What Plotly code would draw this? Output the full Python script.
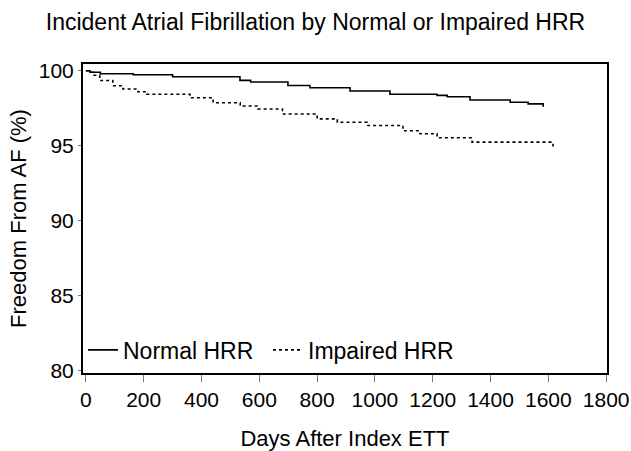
import plotly.graph_objects as go

# Kaplan-Meier style survival (freedom from AF)
normal_days = [0, 14, 50, 164, 300, 533, 570, 699, 775, 914, 1052, 1215, 1250, 1329, 1468, 1530, 1582, 1585]
normal_vals = [100, 99.9, 99.8, 99.73, 99.6, 99.36, 99.25, 99.02, 98.87, 98.65, 98.43, 98.36, 98.27, 98.05, 97.9, 97.79, 97.65, 97.65]

impaired_days = [0, 10, 24, 48, 93, 128, 180, 211, 360, 440, 534, 595, 680, 800, 870, 973, 1097, 1156, 1215, 1336, 1612, 1616]
impaired_vals = [100, 99.9, 99.7, 99.35, 99.0, 98.78, 98.6, 98.43, 98.2, 97.87, 97.65, 97.45, 97.12, 96.79, 96.57, 96.35, 96.0, 95.8, 95.53, 95.24, 95.24, 94.95]

x_ticks = [0, 200, 400, 600, 800, 1000, 1200, 1400, 1600, 1800]
y_ticks = [80, 85, 90, 95, 100]

FONT = "Liberation Sans, Arial, sans-serif"

fig = go.Figure()
fig.add_trace(go.Scatter(x=normal_days, y=normal_vals, mode="lines", name="Normal HRR",
                         line=dict(color="black", width=1.6, shape="hv")))
fig.add_trace(go.Scatter(x=impaired_days, y=impaired_vals, mode="lines", name="Impaired HRR",
                         line=dict(color="black", width=1.6, shape="hv", dash="dot")))

fig.update_layout(
    width=631, height=451,
    margin=dict(l=83, r=24, t=64, b=78),
    paper_bgcolor="white", plot_bgcolor="white",
    font=dict(family=FONT, color="black", size=21),
    title=dict(text="Incident Atrial Fibrillation by Normal or Impaired HRR",
               x=0.5, xanchor="center", y=0.952, yanchor="middle",
               font=dict(size=23, family=FONT, color="black")),
    showlegend=True,
    legend=dict(orientation="h", x=0.0, xanchor="left", y=0.005, yanchor="bottom",
                bgcolor="rgba(0,0,0,0)", font=dict(size=23, family=FONT),
                itemwidth=30, tracegroupgap=0, entrywidth=140, entrywidthmode="pixels"),
    xaxis=dict(range=[-10, 1803], tickvals=x_ticks, ticktext=[str(v) for v in x_ticks],
               showgrid=False, zeroline=False, showline=True, linecolor="black", linewidth=2,
               mirror=True, ticks="outside", ticklen=7, tickcolor="#777", tickwidth=1,
               automargin=False,
               title=dict(text="Days After Index ETT", standoff=22, font=dict(size=22))),
    yaxis=dict(range=[79.85, 100.45], tickvals=y_ticks, ticktext=[str(v) for v in y_ticks],
               showgrid=False, zeroline=False, showline=True, linecolor="black", linewidth=2,
               mirror=True, ticks="outside", ticklen=3, tickcolor="#777", tickwidth=1,
               automargin=False,
               title=dict(text="Freedom From AF (%)", standoff=6, font=dict(size=22))),
)

fig.write_html("out.html", config={"displayModeBar": False},
               post_script="document.body.style.margin='0';")
